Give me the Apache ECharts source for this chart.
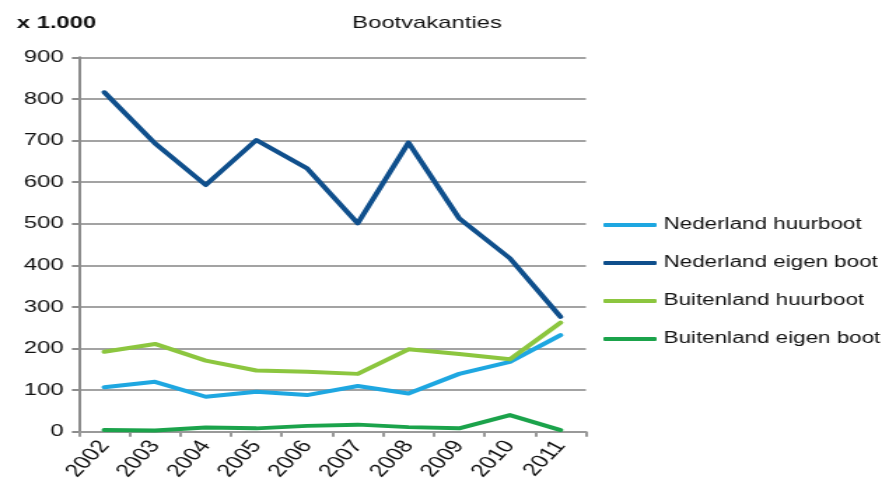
<!DOCTYPE html>
<html>
<head>
<meta charset="utf-8">
<script src="https://cdn.jsdelivr.net/npm/echarts@6/dist/echarts.min.js"></script>
<style>
  html, body { margin: 0; padding: 0; background: #fff; overflow: hidden; }
  /* chart is laid out narrow and widened horizontally */
  #chart { position: absolute; left: 0; top: 0; width: 632px; height: 497px;
           transform: scaleX(1.4); transform-origin: 0 0; }
</style>
</head>
<body>
<div id="chart"></div>
<script>
// Bootvakanties (x 1.000)
const years = ['2002', '2003', '2004', '2005', '2006', '2007', '2008', '2009', '2010', '2011'];
const nederlandHuurboot   = [107, 120, 84, 96, 88, 110, 92, 139, 168, 232];
const nederlandEigenBoot  = [816, 693, 593, 701, 633, 501, 695, 513, 417, 276];
const buitenlandHuurboot  = [192, 211, 171, 147, 144, 139, 198, 187, 174, 262];
const buitenlandEigenBoot = [4, 3, 10, 8, 14, 17, 11, 8, 40, 4];
const seriesNames = ['Nederland huurboot', 'Nederland eigen boot', 'Buitenland huurboot', 'Buitenland eigen boot'];
const yMin = 0, yMax = 900, yStep = 100;

const FONT = '"Liberation Sans", Arial, sans-serif';
const colors = ['#1ea7e1', '#0f4f8c', '#8cc63f', '#1ba34b'];
const values = [nederlandHuurboot, nederlandEigenBoot, buitenlandHuurboot, buitenlandEigenBoot];

const chart = echarts.init(document.getElementById('chart'), null, { renderer: 'canvas' });
chart.setOption({
  animation: false,
  backgroundColor: '#fff',
  title: [
    { text: 'Bootvakanties', left: 305, top: 15, textAlign: 'center', padding: 0,
      textStyle: { fontFamily: FONT, fontSize: 17, fontWeight: 'normal', color: '#111' } },
    { text: 'x 1.000', left: 12, top: 15, padding: 0,
      textStyle: { fontFamily: FONT, fontSize: 17, fontWeight: 'bold', color: '#111' } }
  ],
  legend: {
    orient: 'vertical', left: 431, top: 217, padding: 0,
    itemWidth: 38, itemHeight: 4, itemGap: 22, icon: 'roundRect',
    data: seriesNames,
    textStyle: { fontFamily: FONT, fontSize: 16, color: '#111' }
  },
  grid: { left: 56.4, right: 213.5, top: 57.3, bottom: 65.3, containLabel: false, outerBoundsMode: 'none' },
  xAxis: {
    type: 'category', data: years, boundaryGap: true,
    axisLine: { show: true, lineStyle: { color: '#999', width: 2 } },
    axisTick: { show: true, length: 5, lineStyle: { color: '#999', width: 2 } },
    axisLabel: { rotate: 54, margin: 11, fontFamily: FONT, fontSize: 18, color: '#111' },
    splitLine: { show: false }
  },
  yAxis: {
    type: 'value', min: yMin, max: yMax, interval: yStep,
    axisLine: { show: true, lineStyle: { color: '#8c8c8c', width: 2 } },
    axisTick: { show: true, length: 5, lineStyle: { color: '#8c8c8c', width: 2 } },
    axisLabel: { margin: 11, fontFamily: FONT, fontSize: 17, color: '#111' },
    splitLine: { show: true, lineStyle: { color: '#a3a3a3', width: 2 } }
  },
  series: seriesNames.map((name, i) => ({
    name, type: 'line', data: values[i], symbol: 'none', smooth: false,
    color: colors[i],
    lineStyle: { color: colors[i], width: 4, cap: 'round', join: 'round' }
  }))
});
</script>
</body>
</html>
